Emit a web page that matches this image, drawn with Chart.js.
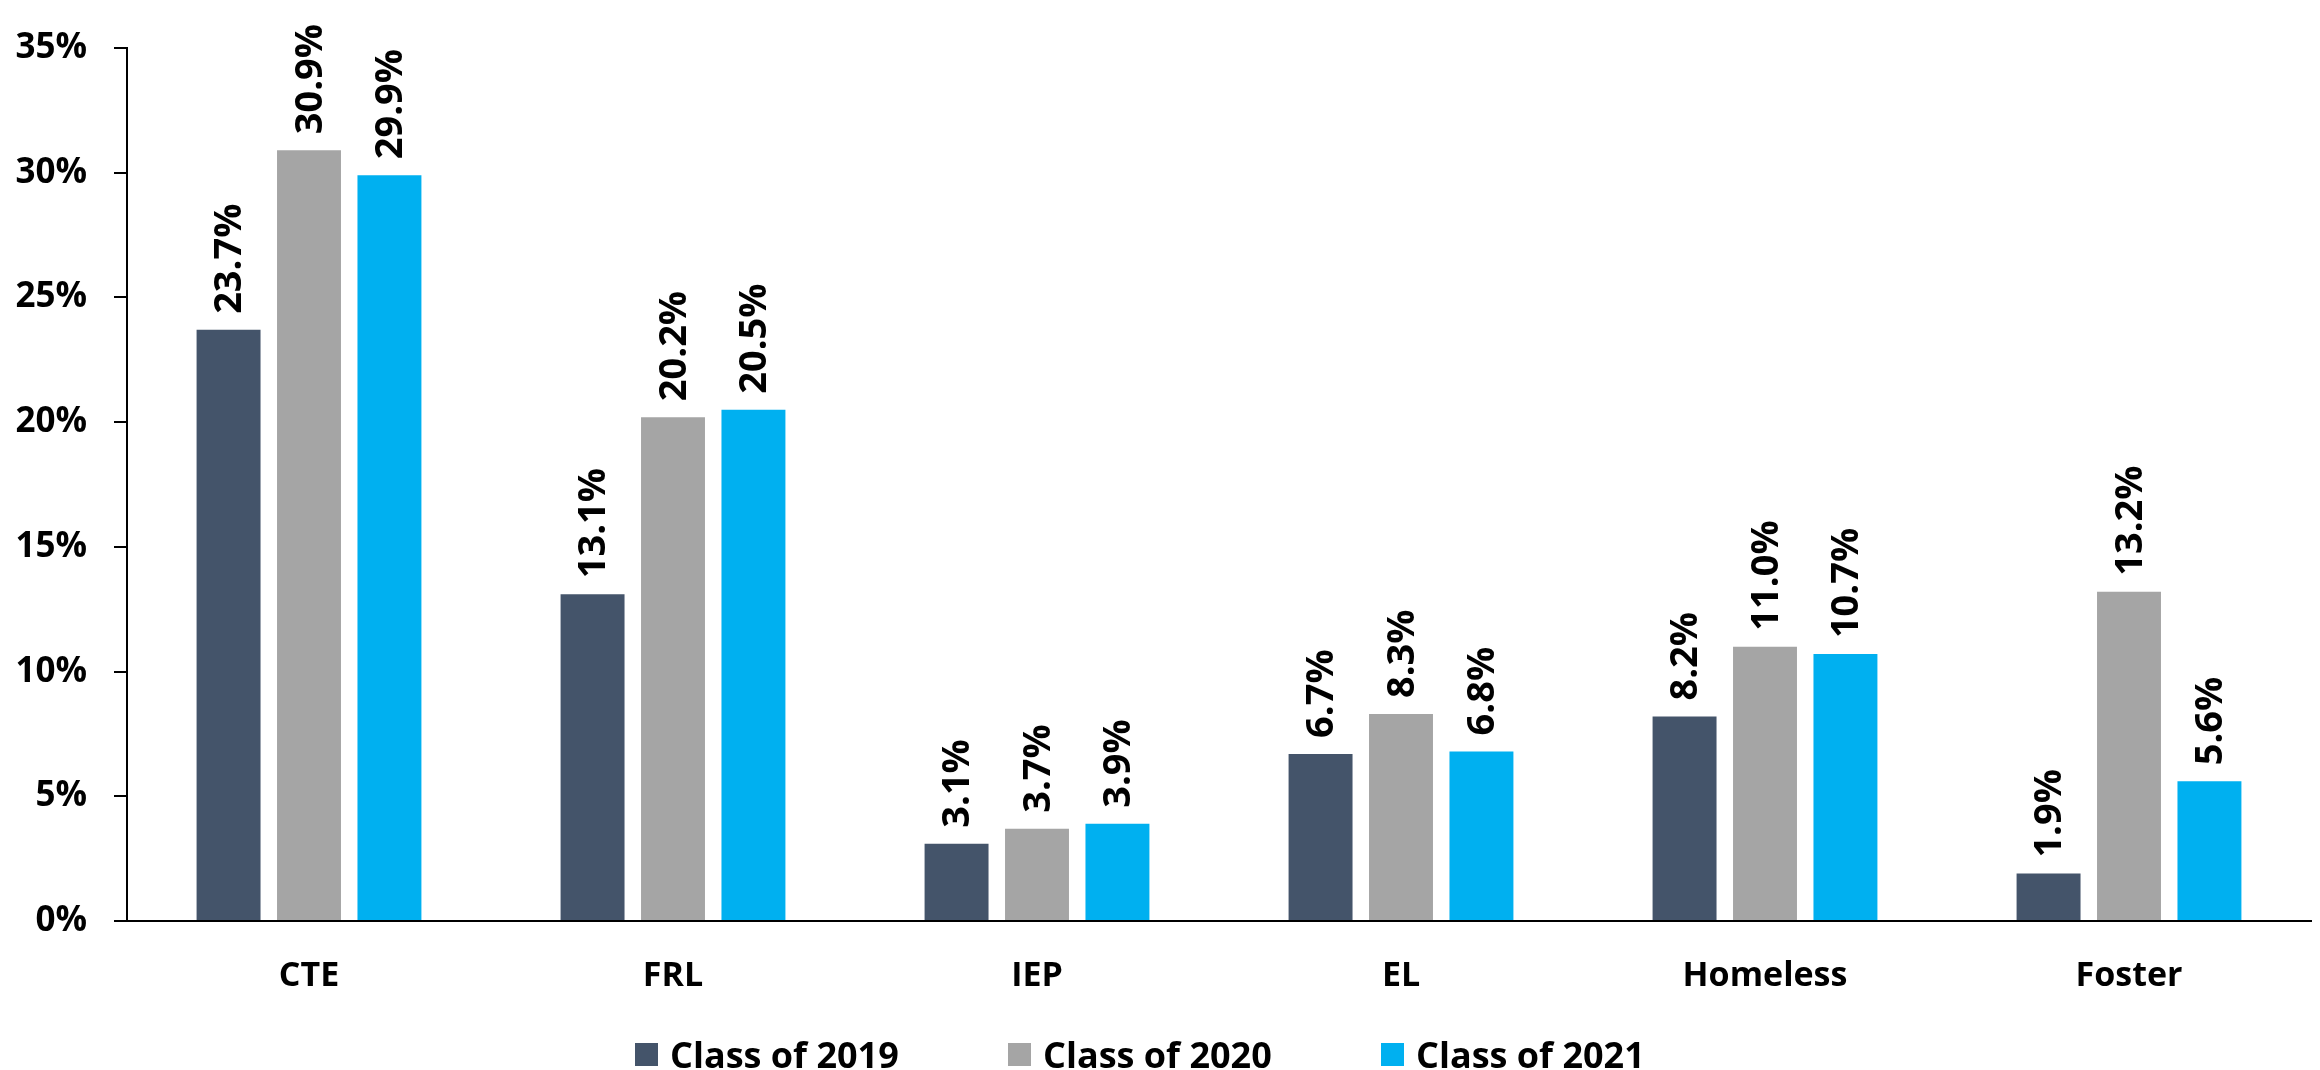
<!DOCTYPE html>
<html>
<head>
<meta charset="utf-8">
<script src="https://cdn.jsdelivr.net/npm/chart.js@4.4.1/dist/chart.umd.min.js"></script>
<style>
    body { margin: 0; background: #fff; }
    #wrap { position: relative; width: 2320px; height: 1070px; }
    #legend {
        position: absolute; left: 635px; top: 1030px;
        display: flex; font-family: "Open Sans", sans-serif; font-weight: bold;
        font-size: 36px; color: #000;
    }
    #legend .item { width: 373px; display: flex; align-items: center; }
    #legend .box { width: 23px; height: 23px; margin-right: 12px; }
</style>
</head>
<body>
<div id="wrap">
    <canvas id="chart" width="2320" height="1070"></canvas>
    <div id="legend"></div>
</div>
<script>
const categories = ['CTE', 'FRL', 'IEP', 'EL', 'Homeless', 'Foster'];
const seriesNames = ['Class of 2019', 'Class of 2020', 'Class of 2021'];
const colors = ['#44546A', '#A5A5A5', '#00B0F0'];
const class2019 = [23.7, 13.1, 3.1, 6.7, 8.2, 1.9];
const class2020 = [30.9, 20.2, 3.7, 8.3, 11.0, 13.2];
const class2021 = [29.9, 20.5, 3.9, 6.8, 10.7, 5.6];
const yTicks = [0, 5, 10, 15, 20, 25, 30, 35];

const font = '"Open Sans", sans-serif';

// value labels above bars, rotated
const barLabels = {
    id: 'barLabels',
    afterDatasetsDraw(chart) {
        const ctx = chart.ctx;
        ctx.save();
        ctx.fillStyle = '#000';
        ctx.font = 'bold 38px ' + font;
        ctx.textAlign = 'left';
        ctx.textBaseline = 'middle';
        chart.data.datasets.forEach((ds, i) => {
            chart.getDatasetMeta(i).data.forEach((bar, j) => {
                ctx.save();
                ctx.translate(bar.x + 2, bar.y - 16);
                ctx.rotate(-Math.PI / 2);
                ctx.fillText(ds.data[j].toFixed(1) + '%', 0, 0);
                ctx.restore();
            });
        });
        ctx.restore();
    }
};

const data = [class2019, class2020, class2021];

new Chart(document.getElementById('chart'), {
    type: 'bar',
    data: {
        labels: categories,
        datasets: seriesNames.map((name, i) => ({
            label: name,
            data: data[i],
            backgroundColor: colors[i],
            categoryPercentage: 0.663,
            barPercentage: 0.795
        }))
    },
    options: {
        responsive: false,
        animation: false,
        layout: { padding: { top: 22, right: 9, left: 0, bottom: 0 } },
        plugins: {
            legend: { display: false },
            tooltip: { enabled: false }
        },
        scales: {
            x: {
                grid: { display: false, drawTicks: false },
                border: { color: '#000', width: 2 },
                ticks: {
                    padding: 35,
                    color: '#000',
                    font: { family: font, size: 34, weight: 'bold' }
                },
                afterFit: (s) => { s.height = 149; }
            },
            y: {
                min: 0,
                max: 35,
                afterBuildTicks: (s) => { s.ticks = yTicks.map(v => ({ value: v })); },
                grid: { drawOnChartArea: false, drawTicks: true, tickLength: 13, color: '#000', lineWidth: 2 },
                border: { color: '#000', width: 2 },
                ticks: {
                    padding: 27,
                    color: '#000',
                    font: { family: font, size: 35, weight: 'bold' },
                    callback: (v) => v + '%'
                },
                afterFit: (s) => { s.width = 127; }
            }
        }
    },
    plugins: [barLabels]
});

const legend = document.getElementById('legend');
seriesNames.forEach((name, i) => {
    const item = document.createElement('div');
    item.className = 'item';
    item.innerHTML = '<span class="box" style="background:' + colors[i] + '"></span><span>' + name + '</span>';
    legend.appendChild(item);
});
</script>
</body>
</html>
